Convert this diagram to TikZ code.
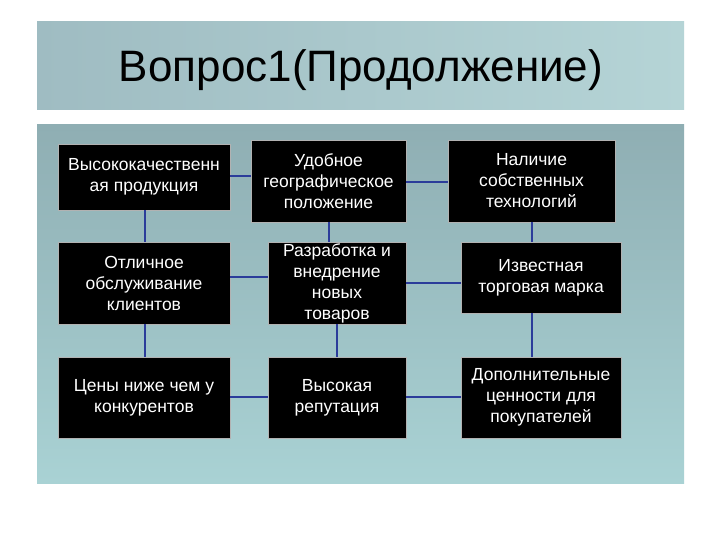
\documentclass[tikz,border=0pt]{standalone}
\usepackage{fontspec}
\setmainfont{Liberation Sans}
\definecolor{pa}{HTML}{8FAEB3}
\definecolor{pb}{HTML}{A9D2D4}
\definecolor{ta}{HTML}{9FBCC2}
\definecolor{tb}{HTML}{B5D4D6}
\definecolor{lc}{HTML}{2B3C9A}
\begin{document}
\begin{tikzpicture}[x=1pt,y=-1pt,
  bx/.style={fill=black,draw=gray!60,line width=0.6pt,text=white,align=center,font=\fontsize{17.5}{21}\selectfont,inner sep=0pt},
  ln/.style={draw=lc,line width=1.3pt}]
\useasboundingbox (0,0) rectangle (720,540);
\fill[white] (0,0) rectangle (720,540);
\shade[left color=ta,right color=tb] (37,22) rectangle (684,110);
\node[font=\fontsize{44}{48}\selectfont] (t) at (361,70) {Вопрос1(Продолжение)};
\shade[top color=pa,bottom color=pb] (37,125) rectangle (684,483);
\def\bxn#1#2#3#4#5#6{\node[bx,minimum width=#4-#2,minimum height=#5-#3] (#1) at ({(#2+#4)/2},{(#3+#5)/2}) {#6};}
\bxn{a}{58}{144}{230}{210}{Высококачественн\\ая продукция}
\bxn{b}{251}{140}{406}{222}{Удобное\\географическое\\положение}
\bxn{c}{448}{140}{615}{222}{Наличие\\собственных\\технологий}
\bxn{d}{58}{242}{230}{324}{Отличное\\обслуживание\\клиентов}
\bxn{e}{268}{242}{406}{324}{Разработка и\\внедрение\\новых\\товаров}
\bxn{f}{461}{242}{621}{313}{Известная\\торговая марка}
\bxn{g}{58}{357}{230}{438}{Цены ниже чем у\\конкурентов}
\bxn{h}{268}{357}{406}{438}{Высокая\\репутация}
\bxn{i}{461}{357}{621}{438}{Дополнительные\\ценности для\\покупателей}
\draw[ln] (a.east|-0,176) -- (b.west|-0,176);
\draw[ln] (b.east|-0,182) -- (c.west|-0,182);
\draw[ln] (a.south-|145,0) -- (d.north-|145,0);
\draw[ln] (b.south-|329,0) -- (e.north-|329,0);
\draw[ln] (c.south-|532,0) -- (f.north-|532,0);
\draw[ln] (d.east|-0,277) -- (e.west|-0,277);
\draw[ln] (e.east|-0,283) -- (f.west|-0,283);
\draw[ln] (d.south-|145,0) -- (g.north-|145,0);
\draw[ln] (e.south-|337,0) -- (h.north-|337,0);
\draw[ln] (f.south-|532,0) -- (i.north-|532,0);
\draw[ln] (g.east|-0,397) -- (h.west|-0,397);
\draw[ln] (h.east|-0,397) -- (i.west|-0,397);
\end{tikzpicture}
\end{document}
